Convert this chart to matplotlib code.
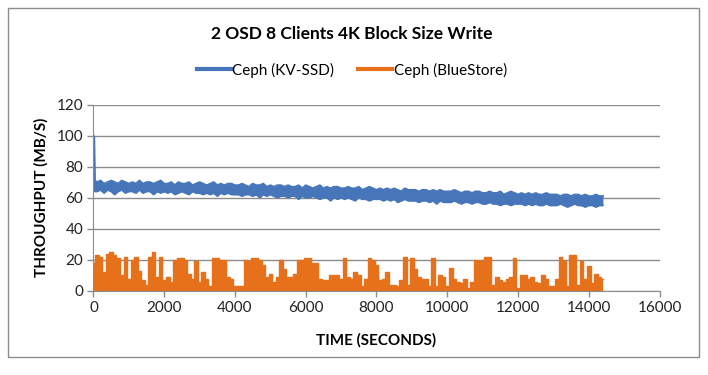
"""
2 OSD / 8 clients, 4K block write throughput: KV-SSD vs BlueStore
"""

import matplotlib
matplotlib.use("Agg")
import matplotlib.pyplot as plt
from matplotlib.patches import Rectangle

title = "2 OSD 8 Clients 4K Block Size Write"
series_names = ["Ceph (KV-SSD)", "Ceph (BlueStore)"]
x_label = "TIME (SECONDS)"
y_label = "THROUGHPUT (MB/S)"
x_ticks = [0, 2000, 4000, 6000, 8000, 10000, 12000, 14000, 16000]
y_ticks = [0, 20, 40, 60, 80, 100, 120]

# KV-SSD is a very noisy trace, kept as the min/max seen in each 100 s window
kv_time = [0, 20, 40] + list(range(100, 14401, 100))
kv_high = [
    100, 99, 71,
    70, 71, 69, 70, 71, 70, 69, 71, 70, 69,
    70, 69, 71, 69, 70, 70, 69, 70, 71, 69,
    69, 70, 68, 70, 69, 69, 70, 68, 69, 70,
    69, 68, 69, 70, 68, 69, 68, 69, 69, 68,
    68, 69, 68, 67, 69, 68, 68, 69, 67, 68,
    67, 68, 68, 67, 68, 67, 67, 68, 66, 68,
    67, 66, 67, 68, 66, 67, 66, 67, 67, 66,
    66, 67, 66, 66, 67, 65, 66, 67, 66, 65,
    66, 65, 66, 65, 66, 65, 64, 66, 65, 65,
    65, 64, 65, 65, 64, 65, 64, 65, 64, 64,
    64, 65, 64, 63, 64, 64, 63, 64, 64, 63,
    63, 64, 63, 63, 64, 62, 63, 64, 63, 62,
    63, 62, 63, 62, 63, 62, 62, 63, 62, 62,
    62, 61, 62, 62, 61, 62, 62, 61, 62, 61,
    61, 62, 61, 61,
]
kv_low = [
    66, 66, 64,
    64, 65, 63, 65, 64, 62, 64, 65, 63, 64,
    64, 63, 65, 63, 64, 64, 62, 64, 63, 64,
    63, 64, 62, 63, 64, 63, 62, 64, 63, 63,
    62, 63, 62, 63, 61, 63, 62, 63, 62, 62,
    62, 61, 62, 62, 61, 62, 60, 62, 61, 62,
    61, 60, 61, 61, 60, 61, 61, 59, 61, 60,
    60, 61, 60, 59, 60, 60, 58, 60, 59, 60,
    59, 60, 59, 58, 60, 59, 59, 58, 59, 59,
    59, 58, 59, 58, 59, 57, 58, 59, 58, 58,
    58, 57, 58, 58, 57, 58, 56, 58, 57, 57,
    57, 58, 57, 56, 57, 57, 56, 57, 57, 56,
    56, 57, 56, 56, 55, 56, 56, 55, 56, 56,
    56, 55, 56, 55, 56, 55, 55, 56, 55, 55,
    55, 56, 55, 54, 55, 56, 55, 55, 54, 55,
    55, 54, 55, 55,
]

# BlueStore: one reading every 100 s from 0
bs_time = list(range(0, 14401, 100))
bs_mbps = [
    18, 23, 22, 12, 24, 25, 23, 21, 10, 22,
    8, 20, 22, 13, 7, 4, 22, 25, 9, 22,
    7, 9, 6, 20, 21, 21, 20, 11, 8, 19,
    6, 12, 8, 3, 21, 21, 20, 20, 9, 8,
    3, 3, 3, 20, 19, 21, 21, 20, 17, 9,
    11, 6, 9, 20, 14, 9, 9, 11, 20, 20,
    21, 21, 18, 18, 8, 7, 7, 10, 10, 10,
    8, 21, 9, 8, 12, 10, 3, 8, 21, 20,
    17, 7, 8, 12, 4, 4, 3, 7, 22, 4,
    21, 14, 9, 8, 8, 3, 21, 3, 10, 9,
    3, 15, 8, 6, 5, 8, 2, 6, 20, 19,
    20, 22, 22, 4, 9, 7, 6, 8, 9, 21,
    2, 10, 10, 8, 9, 6, 5, 10, 8, 3,
    3, 8, 22, 19, 3, 23, 23, 4, 19, 8,
    16, 5, 11, 9, 8,
]

blue = "#4676B9"
orange = "#E6711A"
grid_gray = "#8C8C8C"

plt.rcParams["font.family"] = ["Lato", "DejaVu Sans"]

fig = plt.figure(figsize=(7.08, 3.75), dpi=100)
ax = fig.add_axes([0.132, 0.224, 0.7995, 0.4973])

ax.fill_between(bs_time, bs_mbps, step="mid", color=orange, lw=0)
ax.plot(bs_time, bs_mbps, drawstyle="steps-mid", color=orange, lw=1)

ax.fill_between(kv_time, kv_low, kv_high, color=blue, lw=0)
ax.plot(kv_time, kv_high, color=blue, lw=1.5)
ax.plot(kv_time, kv_low, color=blue, lw=1.2)

ax.set_xlim(0, 16000)
ax.set_ylim(0, 120)
ax.set_xticks(x_ticks)
ax.set_yticks(y_ticks)
ax.tick_params(labelsize=11, colors="#222222", length=4, width=1)
ax.tick_params(axis="both", color=grid_gray)
ax.grid(axis="y", color=grid_gray, lw=1)
ax.set_axisbelow(True)
for side in ["top", "right"]:
    ax.spines[side].set_visible(False)
for side in ["left", "bottom"]:
    ax.spines[side].set_color(grid_gray)

ax.set_xlabel(x_label, fontsize=11, fontweight="bold")
ax.xaxis.set_label_coords(0.5, -0.225)
ax.set_ylabel(y_label, fontsize=11, fontweight="bold")
ax.yaxis.set_label_coords(-0.08, 0.5)

fig.suptitle(title, x=0.497, y=0.93, fontsize=12.5, fontweight="bold")

handles = [plt.Line2D([], [], color=blue, lw=3), plt.Line2D([], [], color=orange, lw=3)]
fig.legend(handles, series_names, loc="center", bbox_to_anchor=(0.497, 0.813),
           ncol=2, frameon=False, fontsize=11, handlelength=2.2,
           handletextpad=0.1, columnspacing=1.6)

fig.patches.append(Rectangle((8 / 708, 18 / 375), 691 / 708, 349 / 375,
                             transform=fig.transFigure, fill=False,
                             edgecolor=grid_gray, lw=1))

fig.savefig("out.png", dpi=100)
